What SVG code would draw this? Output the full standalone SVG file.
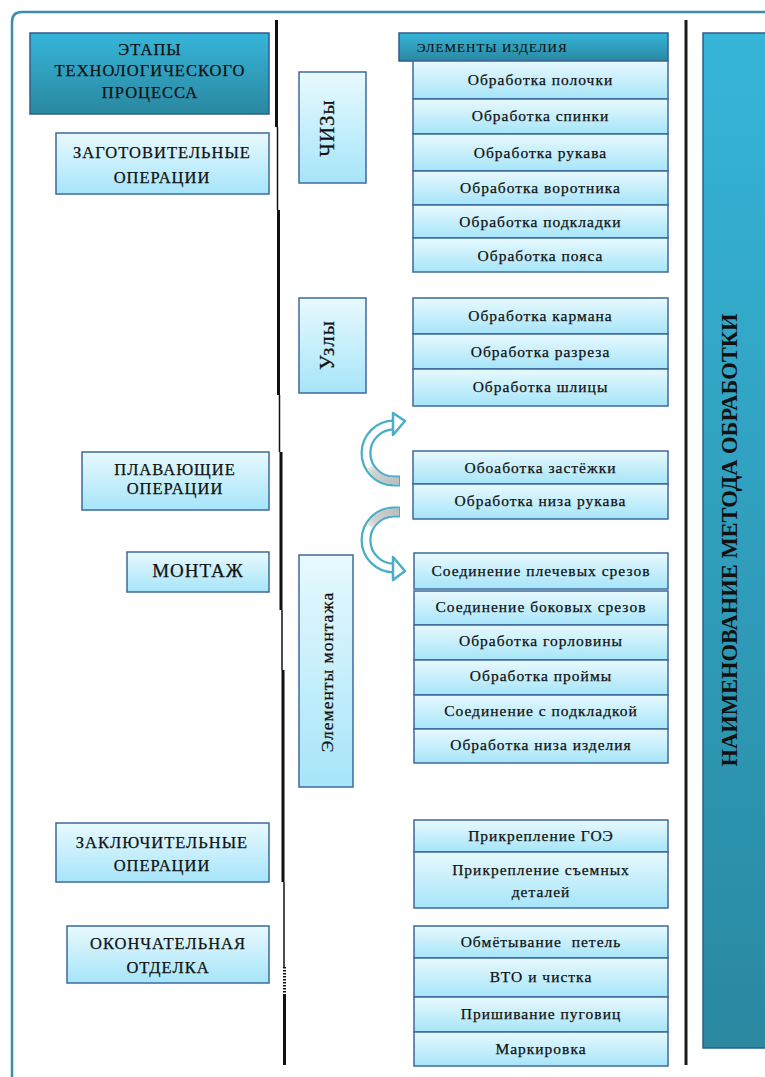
<svg xmlns="http://www.w3.org/2000/svg" width="765" height="1077" viewBox="0 0 765 1077">
<defs>
<linearGradient id="gLight" x1="0" y1="0" x2="0" y2="1"><stop offset="0" stop-color="#e8f9fe"/><stop offset="1" stop-color="#a6e5f9"/></linearGradient>
<linearGradient id="gDark" x1="0" y1="0" x2="0" y2="1"><stop offset="0" stop-color="#36b5d9"/><stop offset="1" stop-color="#2a88a0"/></linearGradient>
<linearGradient id="gGrey1" gradientUnits="userSpaceOnUse" x1="400" y1="481" x2="368" y2="455"><stop offset="0" stop-color="#bdbdbd"/><stop offset="0.6" stop-color="#d0d0d0"/><stop offset="1" stop-color="#ffffff"/></linearGradient>
<linearGradient id="gGrey2" gradientUnits="userSpaceOnUse" x1="400" y1="512" x2="368" y2="538"><stop offset="0" stop-color="#bdbdbd"/><stop offset="0.6" stop-color="#d0d0d0"/><stop offset="1" stop-color="#ffffff"/></linearGradient>
<style>
.lt{fill:url(#gLight);stroke:#3d6a9a;stroke-width:1.5}
.dk{fill:url(#gDark);stroke:#2c5e8c;stroke-width:1.5}
.t{font-family:"Liberation Serif","Times New Roman",serif;font-size:15.5px;fill:#111;stroke:#111;stroke-width:0.25px;text-anchor:middle;letter-spacing:1px}
.u{font-size:16.5px}
.r{font-size:21px}
.ln{stroke:#111;fill:none}
.ao{fill:none;stroke:#4aaec6;stroke-width:11;stroke-linecap:butt}
.ai{fill:none;stroke:#ffffff;stroke-width:6.5;stroke-linecap:butt}
.ah{fill:#ffffff;stroke:#4aaec6;stroke-width:2.5;stroke-linejoin:round}
</style>
</defs>
<rect width="765" height="1077" fill="#ffffff"/>
<path d="M12 1077 V22 Q12 12 22 12 H765" fill="none" stroke="#3e8ea6" stroke-width="2.5"/>

<g id="connectors">
<g class="ln">
<line x1="276.5" y1="20" x2="276.5" y2="127" stroke-width="3"/>
<line x1="277.5" y1="127" x2="277.5" y2="210" stroke-width="1.5"/>
<line x1="278.5" y1="210" x2="278.5" y2="395" stroke-width="3"/>
<line x1="279.5" y1="395" x2="279.5" y2="452" stroke-width="1.5"/>
<line x1="281" y1="452" x2="281" y2="610" stroke-width="3"/>
<line x1="282" y1="610" x2="282" y2="670" stroke-width="1.5"/>
<line x1="283" y1="670" x2="283" y2="882" stroke-width="3"/>
<line x1="284" y1="882" x2="284" y2="967" stroke-width="1.5"/>
<line x1="284.5" y1="967" x2="284.5" y2="995" stroke-width="3" stroke-dasharray="1.5 1.5"/>
<line x1="284.5" y1="995" x2="284.5" y2="1065" stroke-width="3"/>
<line x1="686" y1="20" x2="686" y2="1065" stroke-width="3" stroke="#1a1a1a"/>
</g>
<g id="arrow-up">
<path class="ao" d="M400 481 H394 A28 28 0 0 1 394 425 H396"/>
<path class="ai" d="M399 481 H394 A28 28 0 0 1 394 425 H397"/>
<path d="M399 481 H394 A28 28 0 0 1 369.8 467" fill="none" stroke="url(#gGrey1)" stroke-width="6.5"/>
<polygon class="ah" points="393,413 405,421 393,435"/>
</g>
<g id="arrow-down">
<path class="ao" d="M400 512 H394 A28 28 0 0 0 394 568 H396"/>
<path class="ai" d="M399 512 H394 A28 28 0 0 0 394 568 H397"/>
<path d="M399 512 H394 A28 28 0 0 0 369.8 526" fill="none" stroke="url(#gGrey2)" stroke-width="6.5"/>
<polygon class="ah" points="393,557 405,571 393,580"/>
</g>
</g>

<g id="stages-header"><rect class="dk" x="30" y="33" width="239" height="81"/>
<text class="t u" x="150" y="55">ЭТАПЫ</text><text class="t u" x="150" y="76">ТЕХНОЛОГИЧЕСКОГО</text><text class="t u" x="150" y="98">ПРОЦЕССА</text></g>
<g id="stage-zagot"><rect class="lt" x="56" y="133" width="213" height="61"/>
<text class="t u" x="162" y="158">ЗАГОТОВИТЕЛЬНЫЕ</text><text class="t u" x="162" y="183">ОПЕРАЦИИ</text></g>
<g id="stage-plav"><rect class="lt" x="82" y="452" width="187" height="58"/>
<text class="t u" x="175" y="475">ПЛАВАЮЩИЕ</text><text class="t u" x="175" y="494">ОПЕРАЦИИ</text></g>
<g id="stage-montazh"><rect class="lt" x="127" y="552" width="142" height="40"/>
<text class="t u" x="198" y="577" style="font-size:19px">МОНТАЖ</text></g>
<g id="stage-zakl"><rect class="lt" x="56" y="823" width="213" height="59"/>
<text class="t u" x="162" y="848">ЗАКЛЮЧИТЕЛЬНЫЕ</text><text class="t u" x="162" y="871">ОПЕРАЦИИ</text></g>
<g id="stage-okonch"><rect class="lt" x="67" y="926" width="202" height="57"/>
<text class="t u" x="168" y="949">ОКОНЧАТЕЛЬНАЯ</text><text class="t u" x="168" y="973">ОТДЕЛКА</text></g>

<g id="group-chizy"><rect class="lt" x="299" y="72" width="67" height="111"/>
<text class="t r" transform="translate(334,128) rotate(-90)">ЧИЗы</text></g>
<g id="group-uzly"><rect class="lt" x="299" y="298" width="67" height="95"/>
<text class="t r" transform="translate(334,345) rotate(-90)">Узлы</text></g>
<g id="group-montazh"><rect class="lt" x="299" y="555" width="54" height="232"/>
<text class="t" transform="translate(333,672) rotate(-90)" style="font-size:17.5px">Элементы монтажа</text></g>

<g id="method"><rect class="dk" x="703" y="33" width="70" height="1015"/>
<text transform="translate(737,540) rotate(-90)" style="font-family:'Liberation Serif','Times New Roman',serif;font-size:22.5px;font-weight:bold;fill:#111;text-anchor:middle">НАИМЕНОВАНИЕ МЕТОДА ОБРАБОТКИ</text></g>

<g id="elements-header"><rect class="dk" x="399" y="33" width="269" height="28"/>
<text class="t" x="417" y="52" style="text-anchor:start;font-size:13px;letter-spacing:1px;stroke-width:0.15px">ЭЛЕМЕНТЫ ИЗДЕЛИЯ</text></g>

<g id="e1"><rect class="lt" x="413" y="61" width="255" height="38"/><text class="t" x="540.5" y="85">Обработка полочки</text></g>
<g id="e2"><rect class="lt" x="413" y="99" width="255" height="35"/><text class="t" x="540.5" y="121">Обработка спинки</text></g>
<g id="e3"><rect class="lt" x="413" y="134" width="255" height="37"/><text class="t" x="540.5" y="158">Обработка рукава</text></g>
<g id="e4"><rect class="lt" x="413" y="171" width="255" height="34"/><text class="t" x="540.5" y="193">Обработка воротника</text></g>
<g id="e5"><rect class="lt" x="413" y="205" width="255" height="33"/><text class="t" x="540.5" y="227">Обработка подкладки</text></g>
<g id="e6"><rect class="lt" x="413" y="238" width="255" height="34"/><text class="t" x="540.5" y="261">Обработка пояса</text></g>

<g id="u1"><rect class="lt" x="413" y="298" width="255" height="36"/><text class="t" x="540.5" y="321">Обработка кармана</text></g>
<g id="u2"><rect class="lt" x="413" y="334" width="255" height="35"/><text class="t" x="540.5" y="357">Обработка разреза</text></g>
<g id="u3"><rect class="lt" x="413" y="369" width="255" height="37"/><text class="t" x="540.5" y="392">Обработка шлицы</text></g>

<g id="p1"><rect class="lt" x="413" y="451" width="255" height="33"/><text class="t" x="540.5" y="473">Обоаботка застёжки</text></g>
<g id="p2"><rect class="lt" x="413" y="484" width="255" height="35"/><text class="t" x="540.5" y="506">Обработка низа рукава</text></g>

<g id="m1"><rect class="lt" x="414" y="553" width="254" height="36"/><text class="t" x="541" y="576">Соединение плечевых срезов</text></g>
<g id="m2"><rect class="lt" x="414" y="591" width="254" height="34"/><text class="t" x="541" y="612">Соединение боковых срезов</text></g>
<g id="m3"><rect class="lt" x="414" y="625" width="254" height="35"/><text class="t" x="541" y="646">Обработка горловины</text></g>
<g id="m4"><rect class="lt" x="414" y="660" width="254" height="35"/><text class="t" x="541" y="681">Обработка проймы</text></g>
<g id="m5"><rect class="lt" x="414" y="695" width="254" height="34"/><text class="t" x="541" y="716">Соединение с подкладкой</text></g>
<g id="m6"><rect class="lt" x="414" y="729" width="254" height="34"/><text class="t" x="541" y="750">Обработка низа изделия</text></g>

<g id="z1"><rect class="lt" x="414" y="820" width="254" height="32"/><text class="t" x="541" y="841">Прикрепление ГОЭ</text></g>
<g id="z2"><rect class="lt" x="414" y="852" width="254" height="56"/><text class="t" x="541" y="875">Прикрепление съемных</text><text class="t" x="541" y="897">деталей</text></g>

<g id="o1"><rect class="lt" x="414" y="926" width="254" height="32"/><text class="t" x="541" y="947" style="white-space:pre">Обмётывание  петель</text></g>
<g id="o2"><rect class="lt" x="414" y="958" width="254" height="39"/><text class="t" x="541" y="982">ВТО и чистка</text></g>
<g id="o3"><rect class="lt" x="414" y="997" width="254" height="35"/><text class="t" x="541" y="1019">Пришивание пуговиц</text></g>
<g id="o4"><rect class="lt" x="414" y="1032" width="254" height="34"/><text class="t" x="541" y="1054">Маркировка</text></g>
</svg>
